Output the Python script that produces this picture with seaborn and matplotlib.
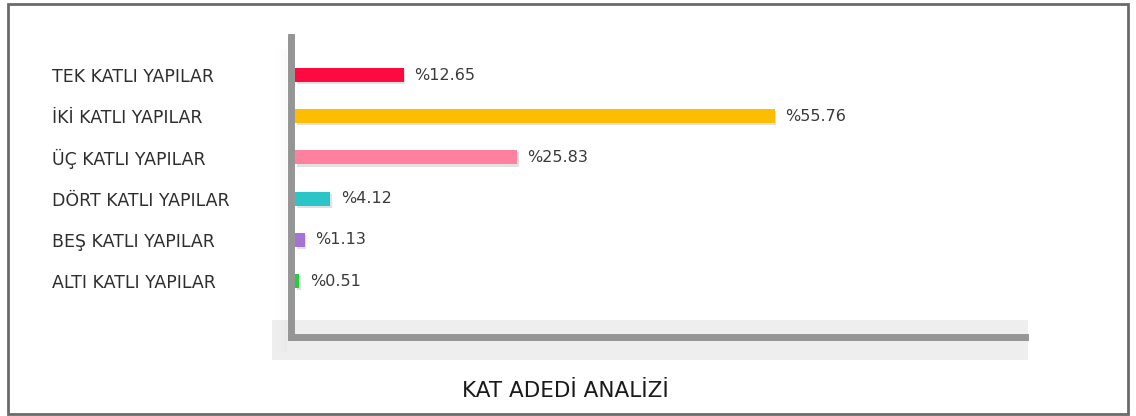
import matplotlib
matplotlib.use("Agg")
import matplotlib.pyplot as plt
import matplotlib.patheffects as pe
from matplotlib.patches import Rectangle
import pandas as pd
import seaborn as sns

# Building counts by number of storeys (share, %)
categories = ["TEK KATLI YAPILAR", "İKİ KATLI YAPILAR", "ÜÇ KATLI YAPILAR",
              "DÖRT KATLI YAPILAR", "BEŞ KATLI YAPILAR", "ALTI KATLI YAPILAR"]
shares = [12.65, 55.76, 25.83, 4.12, 1.13, 0.51]
value_labels = ["%12.65", "%55.76", "%25.83", "%4.12", "%1.13", "%0.51"]
bar_colors = ["#FF0A40", "#FDBD00", "#FF809F", "#2CC5C7", "#A672D6", "#20D03A"]
title = "KAT ADEDİ ANALİZİ"

sns.set_theme(style="white")
plt.rcParams["font.family"] = ["DejaVu Sans"]

W, H = 1136, 416
fig = plt.figure(figsize=(W / 100, H / 100), dpi=100)
fig.patch.set_facecolor("white")


def fx(px):
    return px / W


def fy(py):
    return 1 - py / H


# soft grey band behind the baseline
fig.add_artist(Rectangle((fx(272), fy(360)), fx(1028) - fx(272), fy(320) - fy(360),
                         transform=fig.transFigure, facecolor="#eeeeee",
                         edgecolor="none", zorder=0))
# faint shadow to the left of the vertical axis
for i in range(14):
    a = 0.05 * ((i + 1) / 14) ** 2
    fig.add_artist(Rectangle((fx(273 + i), fy(352)), fx(1), fy(50) - fy(352),
                             transform=fig.transFigure, facecolor="#8a8a8a",
                             alpha=a, edgecolor="none", zorder=0.5))

ax_left, ax_right, ax_top, ax_bottom = 291, 1024.5, 36.5, 336.5
ax = fig.add_axes([fx(ax_left), fy(ax_bottom), fx(ax_right) - fx(ax_left),
                   fy(ax_top) - fy(ax_bottom)])
ax.set_facecolor("none")

df = pd.DataFrame({"category": categories, "share": shares})
sns.barplot(data=df, x="share", y="category", hue="category", palette=bar_colors,
            order=categories, hue_order=categories, legend=False, orient="h",
            width=0.34 * 41.2 / 40.7, saturation=1, linewidth=0, ax=ax, zorder=3)

for patch in ax.patches:
    patch.set_linewidth(0)
    patch.set_path_effects([pe.SimplePatchShadow(offset=(1.2, -1.5), alpha=0.22,
                                                 shadow_rgbFace="#777777"),
                            pe.Normal()])

px_per_unit = 8.6
ax.set_xlim(-4 / px_per_unit, (ax_right - ax_left - 4) / px_per_unit)
# one category step is ~41.2 px; top category sits 38.5 px below the axes top
step = 41.2
ax.set_ylim(5 + (ax_bottom - 281) / step, -(75 - ax_top) / step)

for i, (v, lab) in enumerate(zip(shares, value_labels)):
    ax.annotate(lab, xy=(v, i), xytext=(7.5, 0), textcoords="offset points",
                ha="left", va="center", fontsize=11.5, color="#3a3a3a")

ax.set_xlabel("")
ax.set_ylabel("")
ax.set_xticks([])
ax.tick_params(axis="y", length=0, pad=(ax_left - 52) * 0.72, labelsize=12.5,
               labelcolor="#2e2e2e")
for t in ax.get_yticklabels():
    t.set_horizontalalignment("left")

for side in ["top", "right"]:
    ax.spines[side].set_visible(False)
for side in ["left", "bottom"]:
    ax.spines[side].set_visible(True)
    ax.spines[side].set_linewidth(5)
    ax.spines[side].set_color("#959595")
    ax.spines[side].set_capstyle("projecting")
    ax.spines[side].set_zorder(4)

fig.text(fx(565), fy(391), title, ha="center", va="center", fontsize=15.5,
         color="#1a1a1a")

# outer frame
fig.add_artist(Rectangle((fx(8), fy(413.5)), fx(1128) - fx(8), fy(3.5) - fy(413.5),
                         transform=fig.transFigure, facecolor="none",
                         edgecolor="#6a6a6a", linewidth=2, zorder=10))

fig.savefig("out.png", dpi=100, facecolor="white")
